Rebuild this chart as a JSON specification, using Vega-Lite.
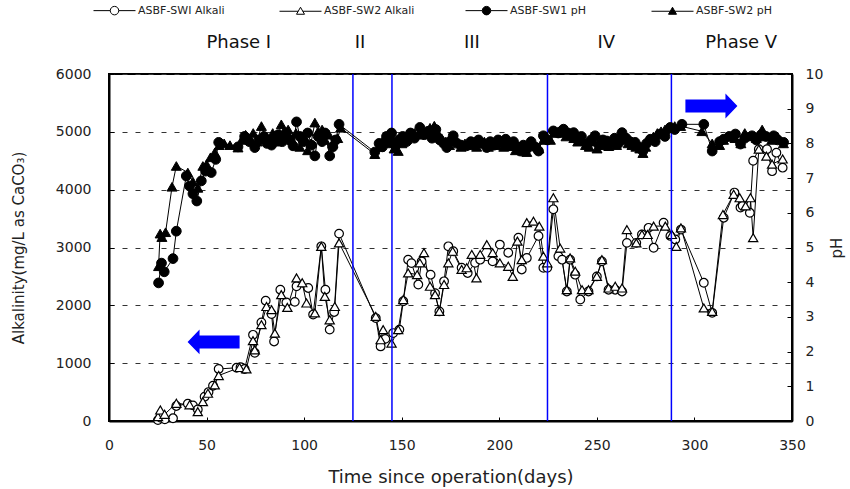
{
  "$schema": "https://vega.github.io/schema/vega-lite/v6.json",
  "width": 683,
  "height": 347,
  "autosize": {"type": "none"},
  "padding": {"left": 109, "top": 74, "right": 58, "bottom": 68},
  "background": "white",
  "config": {
    "view": {"stroke": "black", "strokeWidth": 2},
    "font": "DejaVu Sans",
    "axis": {"domainColor": "black", "domainWidth": 2, "tickColor": "black", "tickWidth": 1, "labelColor": "#222", "titleColor": "#222", "labelFontSize": 14, "titleFontWeight": "normal", "grid": false, "labelOverlap": false, "labelFlush": false},
    "legend": {"labelFont": "DejaVu Sans", "labelFontSize": 11}
  },
  "datasets": {
    "alk": [
      {"day":25.1,"series":"ASBF-SWI Alkali","alk":15},{"day":26.6,"series":"ASBF-SWI Alkali","alk":55},{"day":28.6,"series":"ASBF-SWI Alkali","alk":30},{"day":32.8,"series":"ASBF-SWI Alkali","alk":47},{"day":34.5,"series":"ASBF-SWI Alkali","alk":260},{"day":40.4,"series":"ASBF-SWI Alkali","alk":300},{"day":43.0,"series":"ASBF-SWI Alkali","alk":270},{"day":45.5,"series":"ASBF-SWI Alkali","alk":200},{"day":49.0,"series":"ASBF-SWI Alkali","alk":420},{"day":51.0,"series":"ASBF-SWI Alkali","alk":500},{"day":53.3,"series":"ASBF-SWI Alkali","alk":610},{"day":56.2,"series":"ASBF-SWI Alkali","alk":900},{"day":65.4,"series":"ASBF-SWI Alkali","alk":920},{"day":67.4,"series":"ASBF-SWI Alkali","alk":930},{"day":69.5,"series":"ASBF-SWI Alkali","alk":900},{"day":73.8,"series":"ASBF-SWI Alkali","alk":1490},{"day":74.7,"series":"ASBF-SWI Alkali","alk":1180},{"day":78.1,"series":"ASBF-SWI Alkali","alk":1705},{"day":80.3,"series":"ASBF-SWI Alkali","alk":2080},{"day":83.3,"series":"ASBF-SWI Alkali","alk":1850},{"day":84.6,"series":"ASBF-SWI Alkali","alk":1375},{"day":87.8,"series":"ASBF-SWI Alkali","alk":2270},{"day":90.9,"series":"ASBF-SWI Alkali","alk":2050},{"day":95.2,"series":"ASBF-SWI Alkali","alk":2060},{"day":96.1,"series":"ASBF-SWI Alkali","alk":2330},{"day":102.1,"series":"ASBF-SWI Alkali","alk":2300},{"day":104.6,"series":"ASBF-SWI Alkali","alk":1840},{"day":108.8,"series":"ASBF-SWI Alkali","alk":3020},{"day":110.9,"series":"ASBF-SWI Alkali","alk":2270},{"day":113.1,"series":"ASBF-SWI Alkali","alk":1580},{"day":115.4,"series":"ASBF-SWI Alkali","alk":1885},{"day":117.9,"series":"ASBF-SWI Alkali","alk":3240},{"day":136.7,"series":"ASBF-SWI Alkali","alk":1780},{"day":139.2,"series":"ASBF-SWI Alkali","alk":1290},{"day":141.6,"series":"ASBF-SWI Alkali","alk":1420},{"day":145.6,"series":"ASBF-SWI Alkali","alk":1520},{"day":148.8,"series":"ASBF-SWI Alkali","alk":1580},{"day":150.8,"series":"ASBF-SWI Alkali","alk":2070},{"day":153.3,"series":"ASBF-SWI Alkali","alk":2790},{"day":155.0,"series":"ASBF-SWI Alkali","alk":2730},{"day":158.5,"series":"ASBF-SWI Alkali","alk":2360},{"day":160.2,"series":"ASBF-SWI Alkali","alk":2760},{"day":164.8,"series":"ASBF-SWI Alkali","alk":2530},{"day":167.1,"series":"ASBF-SWI Alkali","alk":2210},{"day":169.3,"series":"ASBF-SWI Alkali","alk":1895},{"day":171.7,"series":"ASBF-SWI Alkali","alk":2415},{"day":173.9,"series":"ASBF-SWI Alkali","alk":3020},{"day":176.4,"series":"ASBF-SWI Alkali","alk":2935},{"day":180.7,"series":"ASBF-SWI Alkali","alk":2650},{"day":183.8,"series":"ASBF-SWI Alkali","alk":2560},{"day":187.6,"series":"ASBF-SWI Alkali","alk":2735},{"day":190.2,"series":"ASBF-SWI Alkali","alk":2790},{"day":196.6,"series":"ASBF-SWI Alkali","alk":2760},{"day":200.3,"series":"ASBF-SWI Alkali","alk":3050},{"day":204.6,"series":"ASBF-SWI Alkali","alk":2910},{"day":209.8,"series":"ASBF-SWI Alkali","alk":3170},{"day":211.5,"series":"ASBF-SWI Alkali","alk":2620},{"day":214.1,"series":"ASBF-SWI Alkali","alk":2820},{"day":220.1,"series":"ASBF-SWI Alkali","alk":3200},{"day":222.6,"series":"ASBF-SWI Alkali","alk":2650},{"day":224.6,"series":"ASBF-SWI Alkali","alk":2650},{"day":227.7,"series":"ASBF-SWI Alkali","alk":3660},{"day":230.3,"series":"ASBF-SWI Alkali","alk":2850},{"day":232.2,"series":"ASBF-SWI Alkali","alk":2790},{"day":234.6,"series":"ASBF-SWI Alkali","alk":2240},{"day":236.3,"series":"ASBF-SWI Alkali","alk":2790},{"day":238.9,"series":"ASBF-SWI Alkali","alk":2530},{"day":241.5,"series":"ASBF-SWI Alkali","alk":2100},{"day":245.7,"series":"ASBF-SWI Alkali","alk":2240},{"day":250.0,"series":"ASBF-SWI Alkali","alk":2500},{"day":252.6,"series":"ASBF-SWI Alkali","alk":2760},{"day":256.0,"series":"ASBF-SWI Alkali","alk":2270},{"day":259.4,"series":"ASBF-SWI Alkali","alk":2270},{"day":262.9,"series":"ASBF-SWI Alkali","alk":2240},{"day":265.4,"series":"ASBF-SWI Alkali","alk":3080},{"day":270.2,"series":"ASBF-SWI Alkali","alk":3080},{"day":273.1,"series":"ASBF-SWI Alkali","alk":3225},{"day":276.5,"series":"ASBF-SWI Alkali","alk":3340},{"day":279.1,"series":"ASBF-SWI Alkali","alk":2995},{"day":284.2,"series":"ASBF-SWI Alkali","alk":3430},{"day":287.7,"series":"ASBF-SWI Alkali","alk":3200},{"day":290.2,"series":"ASBF-SWI Alkali","alk":3140},{"day":293.1,"series":"ASBF-SWI Alkali","alk":3310},{"day":304.8,"series":"ASBF-SWI Alkali","alk":2390},{"day":309.1,"series":"ASBF-SWI Alkali","alk":1870},{"day":315.0,"series":"ASBF-SWI Alkali","alk":3515},{"day":320.5,"series":"ASBF-SWI Alkali","alk":3950},{"day":323.6,"series":"ASBF-SWI Alkali","alk":3690},{"day":324.7,"series":"ASBF-SWI Alkali","alk":3720},{"day":328.4,"series":"ASBF-SWI Alkali","alk":3600},{"day":330.1,"series":"ASBF-SWI Alkali","alk":4500},{"day":333.0,"series":"ASBF-SWI Alkali","alk":4700},{"day":337.2,"series":"ASBF-SWI Alkali","alk":4700},{"day":339.8,"series":"ASBF-SWI Alkali","alk":4320},{"day":342.0,"series":"ASBF-SWI Alkali","alk":4640},{"day":345.2,"series":"ASBF-SWI Alkali","alk":4380},
      {"day":25.1,"series":"ASBF-SW2 Alkali","alk":75},{"day":26.3,"series":"ASBF-SW2 Alkali","alk":190},{"day":28.5,"series":"ASBF-SW2 Alkali","alk":116},{"day":34.5,"series":"ASBF-SW2 Alkali","alk":306},{"day":41.3,"series":"ASBF-SW2 Alkali","alk":280},{"day":45.5,"series":"ASBF-SW2 Alkali","alk":162},{"day":48.1,"series":"ASBF-SW2 Alkali","alk":335},{"day":50.7,"series":"ASBF-SW2 Alkali","alk":480},{"day":54.2,"series":"ASBF-SW2 Alkali","alk":624},{"day":56.2,"series":"ASBF-SW2 Alkali","alk":786},{"day":66.9,"series":"ASBF-SW2 Alkali","alk":925},{"day":70.4,"series":"ASBF-SW2 Alkali","alk":902},{"day":73.8,"series":"ASBF-SW2 Alkali","alk":1390},{"day":74.7,"series":"ASBF-SW2 Alkali","alk":1230},{"day":78.1,"series":"ASBF-SW2 Alkali","alk":1665},{"day":80.7,"series":"ASBF-SW2 Alkali","alk":1980},{"day":83.3,"series":"ASBF-SW2 Alkali","alk":1925},{"day":85.0,"series":"ASBF-SW2 Alkali","alk":1520},{"day":88.3,"series":"ASBF-SW2 Alkali","alk":2185},{"day":91.4,"series":"ASBF-SW2 Alkali","alk":1965},{"day":96.1,"series":"ASBF-SW2 Alkali","alk":2475},{"day":99.0,"series":"ASBF-SW2 Alkali","alk":2390},{"day":101.2,"series":"ASBF-SW2 Alkali","alk":2040},{"day":105.5,"series":"ASBF-SW2 Alkali","alk":1870},{"day":108.8,"series":"ASBF-SW2 Alkali","alk":3020},{"day":110.6,"series":"ASBF-SW2 Alkali","alk":2155},{"day":113.1,"series":"ASBF-SW2 Alkali","alk":1750},{"day":115.7,"series":"ASBF-SW2 Alkali","alk":1980},{"day":117.9,"series":"ASBF-SW2 Alkali","alk":3080},{"day":136.7,"series":"ASBF-SW2 Alkali","alk":1810},{"day":139.2,"series":"ASBF-SW2 Alkali","alk":1405},{"day":140.5,"series":"ASBF-SW2 Alkali","alk":1580},{"day":144.8,"series":"ASBF-SW2 Alkali","alk":1345},{"day":148.2,"series":"ASBF-SW2 Alkali","alk":1580},{"day":150.8,"series":"ASBF-SW2 Alkali","alk":2100},{"day":153.3,"series":"ASBF-SW2 Alkali","alk":2560},{"day":157.9,"series":"ASBF-SW2 Alkali","alk":2530},{"day":159.3,"series":"ASBF-SW2 Alkali","alk":2735},{"day":161.4,"series":"ASBF-SW2 Alkali","alk":2910},{"day":164.5,"series":"ASBF-SW2 Alkali","alk":2330},{"day":167.1,"series":"ASBF-SW2 Alkali","alk":2185},{"day":169.3,"series":"ASBF-SW2 Alkali","alk":1895},{"day":171.7,"series":"ASBF-SW2 Alkali","alk":2360},{"day":173.9,"series":"ASBF-SW2 Alkali","alk":2735},{"day":176.1,"series":"ASBF-SW2 Alkali","alk":2935},{"day":180.7,"series":"ASBF-SW2 Alkali","alk":2620},{"day":183.3,"series":"ASBF-SW2 Alkali","alk":2650},{"day":185.9,"series":"ASBF-SW2 Alkali","alk":2880},{"day":188.3,"series":"ASBF-SW2 Alkali","alk":2475},{"day":190.2,"series":"ASBF-SW2 Alkali","alk":2880},{"day":193.6,"series":"ASBF-SW2 Alkali","alk":3050},{"day":196.6,"series":"ASBF-SW2 Alkali","alk":2910},{"day":200.3,"series":"ASBF-SW2 Alkali","alk":2735},{"day":204.6,"series":"ASBF-SW2 Alkali","alk":2675},{"day":206.9,"series":"ASBF-SW2 Alkali","alk":2500},{"day":209.3,"series":"ASBF-SW2 Alkali","alk":3110},{"day":211.5,"series":"ASBF-SW2 Alkali","alk":2790},{"day":214.1,"series":"ASBF-SW2 Alkali","alk":3430},{"day":217.5,"series":"ASBF-SW2 Alkali","alk":3455},{"day":220.5,"series":"ASBF-SW2 Alkali","alk":3370},{"day":222.6,"series":"ASBF-SW2 Alkali","alk":2850},{"day":224.6,"series":"ASBF-SW2 Alkali","alk":2735},{"day":227.7,"series":"ASBF-SW2 Alkali","alk":3860},{"day":231.2,"series":"ASBF-SW2 Alkali","alk":2990},{"day":234.6,"series":"ASBF-SW2 Alkali","alk":2270},{"day":236.3,"series":"ASBF-SW2 Alkali","alk":2820},{"day":238.9,"series":"ASBF-SW2 Alkali","alk":2590},{"day":242.4,"series":"ASBF-SW2 Alkali","alk":2270},{"day":245.7,"series":"ASBF-SW2 Alkali","alk":2270},{"day":250.0,"series":"ASBF-SW2 Alkali","alk":2500},{"day":252.6,"series":"ASBF-SW2 Alkali","alk":2790},{"day":256.0,"series":"ASBF-SW2 Alkali","alk":2300},{"day":259.4,"series":"ASBF-SW2 Alkali","alk":2330},{"day":262.9,"series":"ASBF-SW2 Alkali","alk":2300},{"day":265.4,"series":"ASBF-SW2 Alkali","alk":3310},{"day":270.2,"series":"ASBF-SW2 Alkali","alk":3080},{"day":273.1,"series":"ASBF-SW2 Alkali","alk":3225},{"day":276.0,"series":"ASBF-SW2 Alkali","alk":3225},{"day":279.1,"series":"ASBF-SW2 Alkali","alk":3370},{"day":285.1,"series":"ASBF-SW2 Alkali","alk":3370},{"day":288.4,"series":"ASBF-SW2 Alkali","alk":3225},{"day":290.7,"series":"ASBF-SW2 Alkali","alk":3020},{"day":293.1,"series":"ASBF-SW2 Alkali","alk":3340},{"day":304.8,"series":"ASBF-SW2 Alkali","alk":1955},{"day":309.1,"series":"ASBF-SW2 Alkali","alk":1895},{"day":314.6,"series":"ASBF-SW2 Alkali","alk":3570},{"day":320.1,"series":"ASBF-SW2 Alkali","alk":3920},{"day":323.2,"series":"ASBF-SW2 Alkali","alk":3860},{"day":326.2,"series":"ASBF-SW2 Alkali","alk":3720},{"day":328.7,"series":"ASBF-SW2 Alkali","alk":3860},{"day":330.1,"series":"ASBF-SW2 Alkali","alk":3170},{"day":333.0,"series":"ASBF-SW2 Alkali","alk":4700},{"day":336.9,"series":"ASBF-SW2 Alkali","alk":4580},{"day":339.8,"series":"ASBF-SW2 Alkali","alk":4440},{"day":345.2,"series":"ASBF-SW2 Alkali","alk":4530}
    ],
    "ph": [
      {"day":25.4,"series":"ASBF-SW1 pH","ph":3.98},{"day":26.9,"series":"ASBF-SW1 pH","ph":4.55},{"day":28.3,"series":"ASBF-SW1 pH","ph":4.3},{"day":32.8,"series":"ASBF-SW1 pH","ph":4.68},{"day":34.5,"series":"ASBF-SW1 pH","ph":5.47},{"day":39.6,"series":"ASBF-SW1 pH","ph":7.06},{"day":41.3,"series":"ASBF-SW1 pH","ph":6.77},{"day":43.0,"series":"ASBF-SW1 pH","ph":6.55},{"day":45.0,"series":"ASBF-SW1 pH","ph":6.34},{"day":47.3,"series":"ASBF-SW1 pH","ph":6.92},{"day":49.5,"series":"ASBF-SW1 pH","ph":7.2},{"day":52.4,"series":"ASBF-SW1 pH","ph":7.16},{"day":54.7,"series":"ASBF-SW1 pH","ph":7.54},{"day":56.2,"series":"ASBF-SW1 pH","ph":8.03},{"day":66.1,"series":"ASBF-SW1 pH","ph":7.9},{"day":69.5,"series":"ASBF-SW1 pH","ph":8.2},{"day":71.9,"series":"ASBF-SW1 pH","ph":8.05},{"day":74.7,"series":"ASBF-SW1 pH","ph":7.88},{"day":76.9,"series":"ASBF-SW1 pH","ph":8.1},{"day":79.4,"series":"ASBF-SW1 pH","ph":8.2},{"day":80.9,"series":"ASBF-SW1 pH","ph":8.0},{"day":83.3,"series":"ASBF-SW1 pH","ph":7.95},{"day":84.9,"series":"ASBF-SW1 pH","ph":8.15},{"day":86.8,"series":"ASBF-SW1 pH","ph":8.25},{"day":88.8,"series":"ASBF-SW1 pH","ph":8.05},{"day":90.8,"series":"ASBF-SW1 pH","ph":8.3},{"day":92.8,"series":"ASBF-SW1 pH","ph":8.1},{"day":94.3,"series":"ASBF-SW1 pH","ph":7.93},{"day":96.1,"series":"ASBF-SW1 pH","ph":8.62},{"day":97.8,"series":"ASBF-SW1 pH","ph":8.2},{"day":99.8,"series":"ASBF-SW1 pH","ph":8.05},{"day":101.8,"series":"ASBF-SW1 pH","ph":8.3},{"day":103.8,"series":"ASBF-SW1 pH","ph":7.95},{"day":105.5,"series":"ASBF-SW1 pH","ph":7.64},{"day":107.2,"series":"ASBF-SW1 pH","ph":8.2},{"day":109.2,"series":"ASBF-SW1 pH","ph":8.05},{"day":110.7,"series":"ASBF-SW1 pH","ph":8.3},{"day":113.1,"series":"ASBF-SW1 pH","ph":7.64},{"day":114.7,"series":"ASBF-SW1 pH","ph":7.9},{"day":116.2,"series":"ASBF-SW1 pH","ph":8.1},{"day":117.9,"series":"ASBF-SW1 pH","ph":8.55},{"day":136.2,"series":"ASBF-SW1 pH","ph":7.75},{"day":138.4,"series":"ASBF-SW1 pH","ph":8.0},{"day":140.1,"series":"ASBF-SW1 pH","ph":7.9},{"day":142.2,"series":"ASBF-SW1 pH","ph":8.2},{"day":143.6,"series":"ASBF-SW1 pH","ph":8.05},{"day":144.8,"series":"ASBF-SW1 pH","ph":8.3},{"day":146.6,"series":"ASBF-SW1 pH","ph":7.95},{"day":148.6,"series":"ASBF-SW1 pH","ph":8.1},{"day":150.5,"series":"ASBF-SW1 pH","ph":8.2},{"day":152.5,"series":"ASBF-SW1 pH","ph":8.05},{"day":154.5,"series":"ASBF-SW1 pH","ph":8.3},{"day":156.5,"series":"ASBF-SW1 pH","ph":8.15},{"day":159.3,"series":"ASBF-SW1 pH","ph":8.46},{"day":161.5,"series":"ASBF-SW1 pH","ph":8.25},{"day":163.5,"series":"ASBF-SW1 pH","ph":8.35},{"day":165.5,"series":"ASBF-SW1 pH","ph":8.15},{"day":167.5,"series":"ASBF-SW1 pH","ph":8.4},{"day":169.5,"series":"ASBF-SW1 pH","ph":8.1},{"day":171.5,"series":"ASBF-SW1 pH","ph":8.0},{"day":173.1,"series":"ASBF-SW1 pH","ph":7.88},{"day":174.5,"series":"ASBF-SW1 pH","ph":8.05},{"day":176.4,"series":"ASBF-SW1 pH","ph":8.22},{"day":178.4,"series":"ASBF-SW1 pH","ph":8.0},{"day":180.4,"series":"ASBF-SW1 pH","ph":7.95},{"day":183.3,"series":"ASBF-SW1 pH","ph":7.93},{"day":185.4,"series":"ASBF-SW1 pH","ph":8.05},{"day":187.4,"series":"ASBF-SW1 pH","ph":7.98},{"day":189.4,"series":"ASBF-SW1 pH","ph":8.1},{"day":191.4,"series":"ASBF-SW1 pH","ph":8.0},{"day":193.6,"series":"ASBF-SW1 pH","ph":7.88},{"day":195.4,"series":"ASBF-SW1 pH","ph":8.05},{"day":197.4,"series":"ASBF-SW1 pH","ph":7.95},{"day":199.4,"series":"ASBF-SW1 pH","ph":8.1},{"day":201.4,"series":"ASBF-SW1 pH","ph":8.0},{"day":203.3,"series":"ASBF-SW1 pH","ph":8.12},{"day":205.3,"series":"ASBF-SW1 pH","ph":7.95},{"day":207.3,"series":"ASBF-SW1 pH","ph":8.05},{"day":209.3,"series":"ASBF-SW1 pH","ph":7.9},{"day":210.7,"series":"ASBF-SW1 pH","ph":7.78},{"day":212.3,"series":"ASBF-SW1 pH","ph":7.95},{"day":214.3,"series":"ASBF-SW1 pH","ph":7.85},{"day":216.3,"series":"ASBF-SW1 pH","ph":8.05},{"day":218.3,"series":"ASBF-SW1 pH","ph":7.9},{"day":220.1,"series":"ASBF-SW1 pH","ph":7.78},{"day":222.6,"series":"ASBF-SW1 pH","ph":8.22},{"day":224.7,"series":"ASBF-SW1 pH","ph":8.1},{"day":227.7,"series":"ASBF-SW1 pH","ph":8.36},{"day":230.2,"series":"ASBF-SW1 pH","ph":8.3},{"day":232.9,"series":"ASBF-SW1 pH","ph":8.41},{"day":235.2,"series":"ASBF-SW1 pH","ph":8.3},{"day":238.1,"series":"ASBF-SW1 pH","ph":8.31},{"day":239.7,"series":"ASBF-SW1 pH","ph":8.12},{"day":242.1,"series":"ASBF-SW1 pH","ph":8.2},{"day":244.8,"series":"ASBF-SW1 pH","ph":7.98},{"day":247.1,"series":"ASBF-SW1 pH","ph":8.1},{"day":249.1,"series":"ASBF-SW1 pH","ph":8.22},{"day":251.1,"series":"ASBF-SW1 pH","ph":7.95},{"day":253.1,"series":"ASBF-SW1 pH","ph":8.1},{"day":255.1,"series":"ASBF-SW1 pH","ph":8.07},{"day":257.1,"series":"ASBF-SW1 pH","ph":8.0},{"day":259.1,"series":"ASBF-SW1 pH","ph":8.15},{"day":261.1,"series":"ASBF-SW1 pH","ph":8.0},{"day":262.9,"series":"ASBF-SW1 pH","ph":8.31},{"day":265.0,"series":"ASBF-SW1 pH","ph":8.15},{"day":267.0,"series":"ASBF-SW1 pH","ph":8.05},{"day":269.6,"series":"ASBF-SW1 pH","ph":8.03},{"day":271.5,"series":"ASBF-SW1 pH","ph":7.9},{"day":273.6,"series":"ASBF-SW1 pH","ph":7.78},{"day":275.5,"series":"ASBF-SW1 pH","ph":8.0},{"day":277.4,"series":"ASBF-SW1 pH","ph":8.12},{"day":279.9,"series":"ASBF-SW1 pH","ph":8.05},{"day":282.4,"series":"ASBF-SW1 pH","ph":8.27},{"day":284.9,"series":"ASBF-SW1 pH","ph":8.2},{"day":287.6,"series":"ASBF-SW1 pH","ph":8.46},{"day":289.9,"series":"ASBF-SW1 pH","ph":8.4},{"day":293.6,"series":"ASBF-SW1 pH","ph":8.55},{"day":304.8,"series":"ASBF-SW1 pH","ph":8.55},{"day":309.1,"series":"ASBF-SW1 pH","ph":7.78},{"day":312.9,"series":"ASBF-SW1 pH","ph":8.05},{"day":315.0,"series":"ASBF-SW1 pH","ph":8.12},{"day":317.8,"series":"ASBF-SW1 pH","ph":8.2},{"day":321.0,"series":"ASBF-SW1 pH","ph":8.27},{"day":323.6,"series":"ASBF-SW1 pH","ph":7.98},{"day":325.8,"series":"ASBF-SW1 pH","ph":8.15},{"day":329.5,"series":"ASBF-SW1 pH","ph":8.22},{"day":331.7,"series":"ASBF-SW1 pH","ph":8.1},{"day":334.2,"series":"ASBF-SW1 pH","ph":8.25},{"day":336.7,"series":"ASBF-SW1 pH","ph":8.2},{"day":340.6,"series":"ASBF-SW1 pH","ph":8.22},{"day":342.7,"series":"ASBF-SW1 pH","ph":8.1},{"day":345.7,"series":"ASBF-SW1 pH","ph":8.03},
      {"day":25.4,"series":"ASBF-SW2 pH","ph":4.46},{"day":26.2,"series":"ASBF-SW2 pH","ph":5.4},{"day":27.1,"series":"ASBF-SW2 pH","ph":5.3},{"day":29.0,"series":"ASBF-SW2 pH","ph":5.44},{"day":32.3,"series":"ASBF-SW2 pH","ph":6.75},{"day":34.5,"series":"ASBF-SW2 pH","ph":7.35},{"day":40.4,"series":"ASBF-SW2 pH","ph":7.16},{"day":43.0,"series":"ASBF-SW2 pH","ph":6.9},{"day":45.5,"series":"ASBF-SW2 pH","ph":6.72},{"day":48.1,"series":"ASBF-SW2 pH","ph":7.35},{"day":50.0,"series":"ASBF-SW2 pH","ph":7.4},{"day":52.0,"series":"ASBF-SW2 pH","ph":7.6},{"day":54.2,"series":"ASBF-SW2 pH","ph":7.74},{"day":56.5,"series":"ASBF-SW2 pH","ph":7.95},{"day":59.0,"series":"ASBF-SW2 pH","ph":8.0},{"day":62.0,"series":"ASBF-SW2 pH","ph":7.95},{"day":66.1,"series":"ASBF-SW2 pH","ph":7.88},{"day":68.0,"series":"ASBF-SW2 pH","ph":8.1},{"day":70.0,"series":"ASBF-SW2 pH","ph":8.25},{"day":71.9,"series":"ASBF-SW2 pH","ph":8.15},{"day":73.9,"series":"ASBF-SW2 pH","ph":8.3},{"day":75.9,"series":"ASBF-SW2 pH","ph":8.05},{"day":78.1,"series":"ASBF-SW2 pH","ph":8.5},{"day":79.9,"series":"ASBF-SW2 pH","ph":8.2},{"day":81.9,"series":"ASBF-SW2 pH","ph":8.1},{"day":83.9,"series":"ASBF-SW2 pH","ph":8.3},{"day":85.9,"series":"ASBF-SW2 pH","ph":8.05},{"day":88.3,"series":"ASBF-SW2 pH","ph":8.55},{"day":89.8,"series":"ASBF-SW2 pH","ph":8.25},{"day":91.8,"series":"ASBF-SW2 pH","ph":8.4},{"day":93.8,"series":"ASBF-SW2 pH","ph":8.1},{"day":95.8,"series":"ASBF-SW2 pH","ph":8.3},{"day":97.8,"series":"ASBF-SW2 pH","ph":7.9},{"day":99.8,"series":"ASBF-SW2 pH","ph":8.2},{"day":101.8,"series":"ASBF-SW2 pH","ph":7.8},{"day":103.5,"series":"ASBF-SW2 pH","ph":8.0},{"day":105.5,"series":"ASBF-SW2 pH","ph":8.6},{"day":107.2,"series":"ASBF-SW2 pH","ph":8.35},{"day":109.2,"series":"ASBF-SW2 pH","ph":8.4},{"day":110.7,"series":"ASBF-SW2 pH","ph":8.1},{"day":112.7,"series":"ASBF-SW2 pH","ph":8.25},{"day":114.7,"series":"ASBF-SW2 pH","ph":8.0},{"day":117.2,"series":"ASBF-SW2 pH","ph":8.15},{"day":118.7,"series":"ASBF-SW2 pH","ph":8.45},{"day":136.2,"series":"ASBF-SW2 pH","ph":7.69},{"day":138.6,"series":"ASBF-SW2 pH","ph":7.9},{"day":140.6,"series":"ASBF-SW2 pH","ph":8.1},{"day":142.6,"series":"ASBF-SW2 pH","ph":8.0},{"day":144.6,"series":"ASBF-SW2 pH","ph":8.2},{"day":146.1,"series":"ASBF-SW2 pH","ph":7.85},{"day":148.2,"series":"ASBF-SW2 pH","ph":7.78},{"day":150.1,"series":"ASBF-SW2 pH","ph":8.0},{"day":152.5,"series":"ASBF-SW2 pH","ph":8.12},{"day":154.5,"series":"ASBF-SW2 pH","ph":8.2},{"day":156.5,"series":"ASBF-SW2 pH","ph":8.3},{"day":158.5,"series":"ASBF-SW2 pH","ph":8.25},{"day":160.5,"series":"ASBF-SW2 pH","ph":8.4},{"day":162.5,"series":"ASBF-SW2 pH","ph":8.3},{"day":164.5,"series":"ASBF-SW2 pH","ph":8.45},{"day":166.7,"series":"ASBF-SW2 pH","ph":8.51},{"day":168.5,"series":"ASBF-SW2 pH","ph":8.3},{"day":170.5,"series":"ASBF-SW2 pH","ph":8.15},{"day":172.5,"series":"ASBF-SW2 pH","ph":8.05},{"day":174.5,"series":"ASBF-SW2 pH","ph":7.95},{"day":176.4,"series":"ASBF-SW2 pH","ph":8.15},{"day":178.4,"series":"ASBF-SW2 pH","ph":8.05},{"day":180.4,"series":"ASBF-SW2 pH","ph":7.9},{"day":182.4,"series":"ASBF-SW2 pH","ph":8.0},{"day":184.4,"series":"ASBF-SW2 pH","ph":7.95},{"day":186.4,"series":"ASBF-SW2 pH","ph":8.05},{"day":188.4,"series":"ASBF-SW2 pH","ph":7.9},{"day":190.4,"series":"ASBF-SW2 pH","ph":8.0},{"day":192.4,"series":"ASBF-SW2 pH","ph":8.05},{"day":194.4,"series":"ASBF-SW2 pH","ph":7.9},{"day":196.4,"series":"ASBF-SW2 pH","ph":8.0},{"day":198.4,"series":"ASBF-SW2 pH","ph":7.95},{"day":200.3,"series":"ASBF-SW2 pH","ph":8.05},{"day":202.3,"series":"ASBF-SW2 pH","ph":7.9},{"day":204.3,"series":"ASBF-SW2 pH","ph":8.0},{"day":206.3,"series":"ASBF-SW2 pH","ph":7.92},{"day":208.3,"series":"ASBF-SW2 pH","ph":7.8},{"day":210.3,"series":"ASBF-SW2 pH","ph":7.9},{"day":212.3,"series":"ASBF-SW2 pH","ph":7.85},{"day":214.1,"series":"ASBF-SW2 pH","ph":7.75},{"day":215.8,"series":"ASBF-SW2 pH","ph":8.03},{"day":217.8,"series":"ASBF-SW2 pH","ph":7.95},{"day":220.3,"series":"ASBF-SW2 pH","ph":7.85},{"day":222.6,"series":"ASBF-SW2 pH","ph":8.1},{"day":224.2,"series":"ASBF-SW2 pH","ph":8.2},{"day":226.2,"series":"ASBF-SW2 pH","ph":8.1},{"day":228.2,"series":"ASBF-SW2 pH","ph":8.3},{"day":230.2,"series":"ASBF-SW2 pH","ph":8.35},{"day":232.2,"series":"ASBF-SW2 pH","ph":8.3},{"day":234.2,"series":"ASBF-SW2 pH","ph":8.2},{"day":236.2,"series":"ASBF-SW2 pH","ph":8.25},{"day":238.2,"series":"ASBF-SW2 pH","ph":8.15},{"day":240.2,"series":"ASBF-SW2 pH","ph":8.05},{"day":242.2,"series":"ASBF-SW2 pH","ph":8.1},{"day":244.2,"series":"ASBF-SW2 pH","ph":7.95},{"day":246.1,"series":"ASBF-SW2 pH","ph":7.9},{"day":248.1,"series":"ASBF-SW2 pH","ph":8.05},{"day":250.1,"series":"ASBF-SW2 pH","ph":7.85},{"day":252.1,"series":"ASBF-SW2 pH","ph":8.0},{"day":254.1,"series":"ASBF-SW2 pH","ph":7.95},{"day":256.1,"series":"ASBF-SW2 pH","ph":7.92},{"day":258.1,"series":"ASBF-SW2 pH","ph":8.05},{"day":260.1,"series":"ASBF-SW2 pH","ph":7.95},{"day":262.1,"series":"ASBF-SW2 pH","ph":8.2},{"day":264.0,"series":"ASBF-SW2 pH","ph":8.1},{"day":266.0,"series":"ASBF-SW2 pH","ph":8.0},{"day":268.0,"series":"ASBF-SW2 pH","ph":7.95},{"day":270.0,"series":"ASBF-SW2 pH","ph":7.9},{"day":272.0,"series":"ASBF-SW2 pH","ph":7.85},{"day":273.6,"series":"ASBF-SW2 pH","ph":7.72},{"day":275.0,"series":"ASBF-SW2 pH","ph":7.9},{"day":277.0,"series":"ASBF-SW2 pH","ph":8.1},{"day":279.0,"series":"ASBF-SW2 pH","ph":8.2},{"day":281.0,"series":"ASBF-SW2 pH","ph":8.3},{"day":282.9,"series":"ASBF-SW2 pH","ph":8.35},{"day":284.9,"series":"ASBF-SW2 pH","ph":8.4},{"day":287.6,"series":"ASBF-SW2 pH","ph":8.45},{"day":289.9,"series":"ASBF-SW2 pH","ph":8.5},{"day":292.9,"series":"ASBF-SW2 pH","ph":8.5},{"day":303.8,"series":"ASBF-SW2 pH","ph":8.35},{"day":309.1,"series":"ASBF-SW2 pH","ph":8.0},{"day":312.9,"series":"ASBF-SW2 pH","ph":7.95},{"day":314.9,"series":"ASBF-SW2 pH","ph":8.1},{"day":317.8,"series":"ASBF-SW2 pH","ph":8.2},{"day":320.8,"series":"ASBF-SW2 pH","ph":8.15},{"day":323.8,"series":"ASBF-SW2 pH","ph":8.0},{"day":325.8,"series":"ASBF-SW2 pH","ph":8.3},{"day":328.8,"series":"ASBF-SW2 pH","ph":8.2},{"day":331.7,"series":"ASBF-SW2 pH","ph":8.15},{"day":334.7,"series":"ASBF-SW2 pH","ph":8.4},{"day":336.7,"series":"ASBF-SW2 pH","ph":8.2},{"day":339.6,"series":"ASBF-SW2 pH","ph":8.1},{"day":342.6,"series":"ASBF-SW2 pH","ph":8.2},{"day":345.6,"series":"ASBF-SW2 pH","ph":8.0}
    ],
    "bounds": [{"day": 125}, {"day": 145}, {"day": 224.7}, {"day": 288.2}],
    "phases": [{"day": 66.5, "label": "Phase I"}, {"day": 128.6, "label": "II"}, {"day": 186, "label": "III"}, {"day": 254.8, "label": "IV"}, {"day": 324, "label": "Phase V"}],
    "arrowL": [{"day": 53.6, "alk": 1368}],
    "arrowR": [{"day": 308.7, "ph": 9.08}]
  },
  "encoding": {
    "x": {"field": "day", "type": "quantitative", "scale": {"domain": [0, 350], "nice": false},
      "axis": {"values": [0, 50, 100, 150, 200, 250, 300, 350], "tickCount": 8, "title": "Time since operation(days)", "titleFontSize": 18, "labelFontSize": 14, "tickSize": -4, "labelPadding": 21, "titlePadding": 16}}
  },
  "layer": [
    {
      "layer": [
        {
          "data": {"name": "alk"},
          "mark": {"type": "line", "color": "black", "strokeWidth": 1},
          "encoding": {
            "y": {"field": "alk", "type": "quantitative", "scale": {"domain": [0, 6000], "nice": false},
              "axis": {"values": [0, 1000, 2000, 3000, 4000, 5000, 6000], "tickCount": 7, "format": "d", "title": "Alkalinity(mg/L as CaCO₃)", "titleFontSize": 15, "labelFontSize": 14, "grid": true, "gridDash": [5, 8], "gridColor": "#333", "gridWidth": 1, "tickSize": -5, "labelPadding": 23, "titlePadding": 29}},
            "detail": {"field": "series"}
          }
        },
        {
          "data": {"name": "alk"},
          "mark": {"type": "point", "filled": true, "strokeWidth": 1, "opacity": 0, "size": 100},
          "encoding": {
            "y": {"field": "alk", "type": "quantitative"},
            "shape": {"field": "series", "type": "nominal",
              "scale": {"domain": ["ASBF-SWI Alkali", "ASBF-SW2 Alkali", "ASBF-SW1 pH", "ASBF-SW2 pH"],
                "range": ["M-4.2,0L-0.85,0M0.85,0L4.2,0M-0.85,0A0.85,0.85,0,1,1,0.85,0A0.85,0.85,0,1,1,-0.85,0Z", "M-4.2,0L-0.46,0M0.46,0L4.2,0M0,-0.8L0.8,0.6L-0.8,0.6Z", "M-4.2,0L-0.85,0M0.85,0L4.2,0M-0.85,0A0.85,0.85,0,1,1,0.85,0A0.85,0.85,0,1,1,-0.85,0Z", "M-4.2,0L-0.46,0M0.46,0L4.2,0M0,-0.8L0.8,0.6L-0.8,0.6Z"]},
              "legend": {"orient": "none", "legendX": 0, "legendY": -69, "direction": "horizontal", "columns": 4, "gridAlign": "all", "columnPadding": 48, "title": null, "labelFont": "DejaVu Sans", "labelFontSize": 11, "labelColor": "#222", "symbolSize": 100, "symbolStrokeColor": "black", "symbolStrokeWidth": 1, "symbolOpacity": 1, "symbolOffset": 0, "labelOffset": 18}},
            "fill": {"field": "series", "type": "nominal", "scale": {"domain": ["ASBF-SWI Alkali", "ASBF-SW2 Alkali", "ASBF-SW1 pH", "ASBF-SW2 pH"], "range": ["white", "white", "black", "black"]}},
            "stroke": {"field": "series", "type": "nominal", "scale": {"domain": ["ASBF-SWI Alkali", "ASBF-SW2 Alkali", "ASBF-SW1 pH", "ASBF-SW2 pH"], "range": ["black", "black", "black", "black"]}}
          }
        },
        {
          "data": {"name": "alk"},
          "transform": [{"filter": "datum.series === 'ASBF-SWI Alkali'"}],
          "mark": {"type": "point", "shape": "circle", "filled": true, "stroke": "black", "strokeWidth": 1.2, "opacity": 1, "size": 75},
          "encoding": {
            "y": {"field": "alk", "type": "quantitative"},
            "fill": {"field": "series", "type": "nominal"}
          }
        },
        {
          "data": {"name": "alk"},
          "transform": [{"filter": "datum.series === 'ASBF-SW2 Alkali'"}],
          "mark": {"type": "point", "shape": "triangle-up", "filled": true, "stroke": "black", "strokeWidth": 1.2, "opacity": 1, "size": 85},
          "encoding": {
            "y": {"field": "alk", "type": "quantitative"},
            "fill": {"field": "series", "type": "nominal"}
          }
        },
        {
          "data": {"name": "bounds"},
          "mark": {"type": "rule", "color": "#0000ff", "strokeWidth": 1.5},
          "encoding": {}
        },
        {
          "data": {"name": "phases"},
          "mark": {"type": "text", "fontSize": 18, "color": "#111", "baseline": "middle", "align": "center"},
          "encoding": {
            "y": {"datum": 6528, "type": "quantitative"},
            "text": {"field": "label"}
          }
        },
        {
          "data": {"name": "arrowL"},
          "mark": {"type": "point", "shape": "M-1,0L-0.54,-0.48L-0.54,-0.25L1,-0.25L1,0.25L-0.54,0.25L-0.54,0.48Z", "size": 2704, "filled": true, "color": "#0000ff", "opacity": 1, "strokeWidth": 0},
          "encoding": {
            "y": {"field": "alk", "type": "quantitative"}
          }
        }
      ]
    },
    {
      "layer": [
        {
          "data": {"name": "ph"},
          "mark": {"type": "line", "color": "black", "strokeWidth": 1},
          "encoding": {
            "y": {"field": "ph", "type": "quantitative", "scale": {"domain": [0, 10], "nice": false},
              "axis": {"orient": "right", "values": [0, 1, 2, 3, 4, 5, 6, 7, 8, 9, 10], "tickCount": 11, "title": "pH", "titleFontSize": 15, "labelFontSize": 14, "titleAngle": -90, "tickSize": -5, "labelPadding": 18, "titlePadding": 22, "labelOverlap": false}},
            "detail": {"field": "series"}
          }
        },
        {
          "data": {"name": "ph"},
          "transform": [{"filter": "datum.series === 'ASBF-SW1 pH'"}],
          "mark": {"type": "point", "shape": "circle", "filled": true, "stroke": "black", "strokeWidth": 1, "opacity": 1, "size": 95},
          "encoding": {
            "y": {"field": "ph", "type": "quantitative"},
            "fill": {"field": "series", "type": "nominal"}
          }
        },
        {
          "data": {"name": "ph"},
          "transform": [{"filter": "datum.series === 'ASBF-SW2 pH'"}],
          "mark": {"type": "point", "shape": "triangle-up", "filled": true, "stroke": "black", "strokeWidth": 1, "opacity": 1, "size": 100},
          "encoding": {
            "y": {"field": "ph", "type": "quantitative"},
            "fill": {"field": "series", "type": "nominal"}
          }
        },
        {
          "data": {"name": "arrowR"},
          "mark": {"type": "point", "shape": "M1,0L0.54,-0.48L0.54,-0.25L-1,-0.25L-1,0.25L0.54,0.25L0.54,0.48Z", "size": 2704, "filled": true, "color": "#0000ff", "opacity": 1, "strokeWidth": 0},
          "encoding": {
            "y": {"field": "ph", "type": "quantitative"}
          }
        }
      ]
    }
  ],
  "resolve": {"scale": {"y": "independent"}, "axis": {"y": "independent"}}
}
